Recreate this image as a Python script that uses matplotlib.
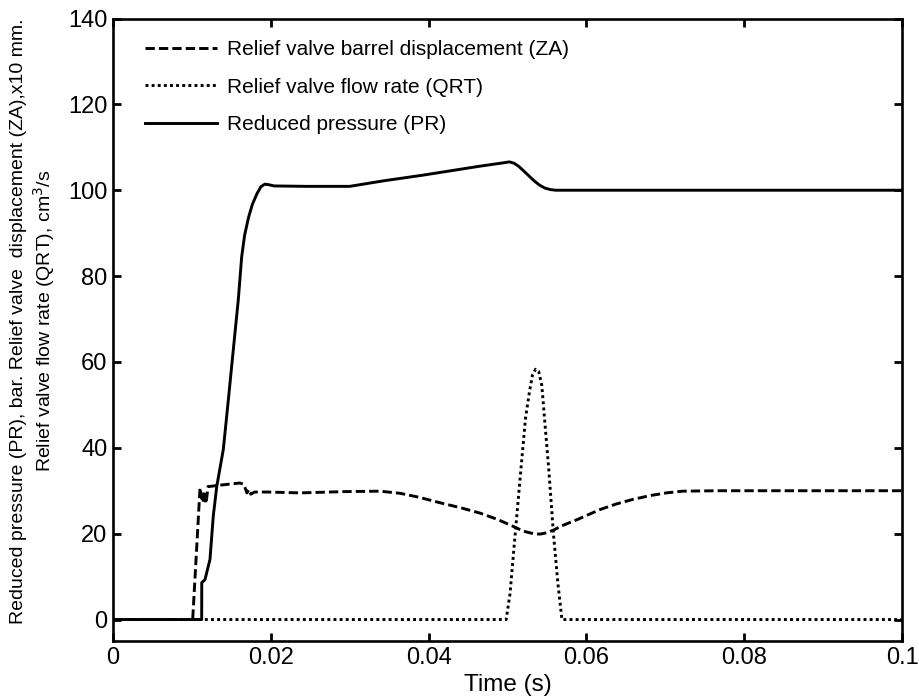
import numpy as np
import matplotlib
matplotlib.use("Agg")
import matplotlib.pyplot as plt

plt.rcParams['font.family'] = ['Liberation Sans', 'DejaVu Sans']

# Reduced pressure (PR), bar
t_pr = [0.0, 0.01124, 0.01125, 0.01166, 0.01229, 0.01271, 0.01315, 0.01398, 0.01462,
        0.01525, 0.01588, 0.01631, 0.01668, 0.01717, 0.01766, 0.01825, 0.01874, 0.01923,
        0.01972, 0.0204, 0.02452, 0.0300, 0.03433, 0.03924, 0.0465, 0.04954, 0.05023,
        0.05082, 0.0514, 0.05199, 0.05268, 0.05337, 0.05405, 0.05474, 0.05543, 0.05611, 0.1]
v_pr = [0.0, 0.0, 8.6, 9.3, 14.0, 24.1, 31.0, 39.6, 51.2,
        62.9, 74.5, 84.5, 89.5, 93.6, 96.7, 99.2, 100.8, 101.4,
        101.3, 101.0, 100.9, 100.9, 102.2, 103.5, 105.6, 106.4, 106.6,
        106.3, 105.6, 104.6, 103.4, 102.2, 101.2, 100.5, 100.15, 100.0, 100.0]

# Relief valve barrel displacement (ZA), x10 mm
t_za = [0.0, 0.0101, 0.01103, 0.01115, 0.01141, 0.01154, 0.01179, 0.01205, 0.01226,
        0.01354, 0.01609, 0.01658, 0.01697, 0.01722, 0.01746, 0.01795, 0.01962, 0.0237,
        0.02943, 0.03384, 0.0364, 0.03875, 0.04145, 0.04414, 0.0465, 0.04876, 0.05072,
        0.05199, 0.05327, 0.05415, 0.05494, 0.05592, 0.0567, 0.05886, 0.0617, 0.06376,
        0.06592, 0.06818, 0.07014, 0.0722, 0.07652, 0.1]
v_za = [0.0, 0.0, 30.7, 29.0, 27.2, 30.0, 27.0, 31.0, 31.0,
        31.3, 31.8, 31.5, 29.5, 30.3, 29.2, 29.7, 29.7, 29.5,
        29.8, 29.9, 29.4, 28.5, 27.2, 26.0, 24.8, 23.3, 21.7,
        20.6, 20.0, 19.9, 20.2, 20.9, 21.7, 23.3, 25.6, 26.9,
        28.0, 28.9, 29.5, 29.9, 30.0, 30.0]

# Relief valve flow rate (QRT), cm3/s
t_qrt = [0.0, 0.04983, 0.05032, 0.05091, 0.0517, 0.05229, 0.05278, 0.05317, 0.05356,
         0.05395, 0.05435, 0.05464, 0.05523, 0.05582, 0.05641, 0.0569, 0.1]
v_qrt = [0.0, 0.0, 6.0, 18.6, 35.0, 47.0, 53.0, 57.0, 58.3,
         57.8, 54.5, 48.0, 35.0, 20.0, 8.0, 0.0, 0.0]

x_ticks = [0, 0.02, 0.04, 0.06, 0.08, 0.1]
x_tick_labels = ['0', '0.02', '0.04', '0.06', '0.08', '0.1']
y_ticks = [0, 20, 40, 60, 80, 100, 120, 140]

labels = ['Relief valve barrel displacement (ZA)',
          'Relief valve flow rate (QRT)',
          'Reduced pressure (PR)']

fig = plt.figure(figsize=(9.19, 7.0), dpi=100)
ax = fig.add_axes([113/919, 1-641/700, (902-113)/919, (641-18.5)/700])

lw = 2.1
l_za, = ax.plot(t_za, v_za, color='black', lw=lw, linestyle=(0, (3.2, 1.4)))
l_qrt, = ax.plot(t_qrt, v_qrt, color='black', lw=lw, linestyle=(0, (1.0, 1.1)))
l_pr, = ax.plot(t_pr, v_pr, color='black', lw=lw, linestyle='-')

ax.set_xlim(0, 0.1)
ax.set_ylim(-5, 140)
ax.set_xticks(x_ticks)
ax.set_xticklabels(x_tick_labels)
ax.set_yticks(y_ticks)
ax.tick_params(direction='in', length=6, width=2, labelsize=17, pad=4,
               top=True, right=True)
for s in ax.spines.values():
    s.set_linewidth(1.9)

ax.legend([l_za, l_qrt, l_pr], labels, loc='upper left',
          bbox_to_anchor=(0.0406, 0.9655), frameon=False, fontsize=15,
          handlelength=3.45, handletextpad=0.48, labelspacing=0.89,
          borderpad=0, borderaxespad=0)

fig.text(508/919, 1-685/700, 'Time (s)', ha='center', va='center', fontsize=17.5)
fig.text(33.5/919, 1-321/700,
         'Reduced pressure (PR), bar. Relief valve  displacement (ZA),x10 mm.\n'
         'Relief valve flow rate (QRT), cm$^3$/s',
         rotation=90, ha='center', va='center', multialignment='center', fontsize=14)

fig.savefig('out.png', dpi=100)
